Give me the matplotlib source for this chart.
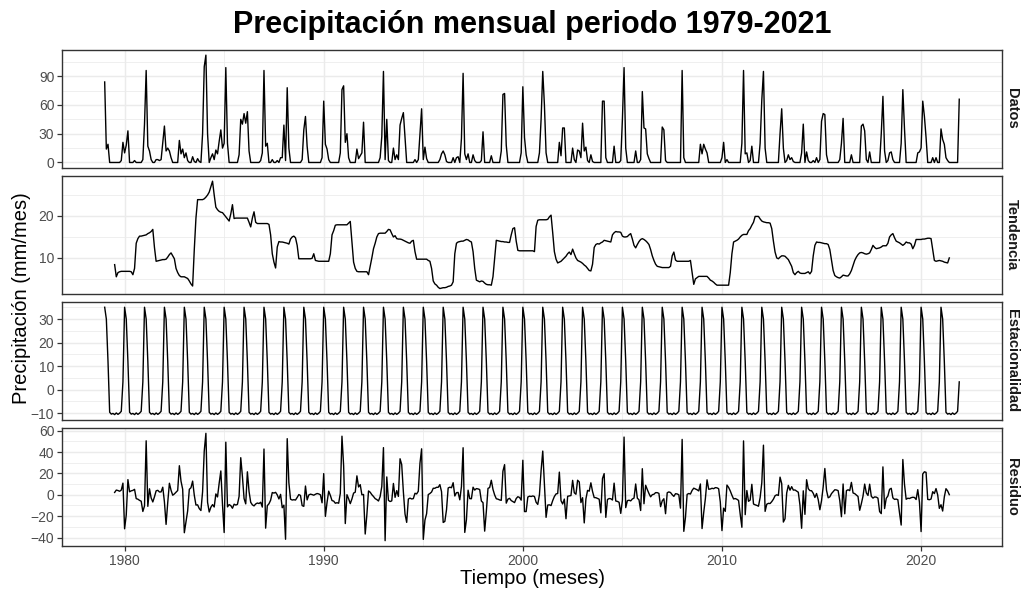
import numpy as np
import matplotlib
matplotlib.use('Agg')
import matplotlib.pyplot as plt

plt.rcParams['font.family'] = ['Liberation Sans', 'DejaVu Sans']

# Monthly precipitation (mm/mes), one row per year, Jan..Dec
datos_mensuales = [
    [84, 14, 19, 0, 0, 0, 0, 0, 0, 0, 2, 21],      # 1979
    [10, 18, 33, 0, 0, 0, 2, 0, 0, 0, 0, 3],       # 1980
    [40, 96, 17, 12, 3, 0, 0, 3, 3, 2, 3, 20],     # 1981
    [38, 12, 15, 12, 5, 0, 0, 0, 0, 23, 9, 14],    # 1982
    [5, 10, 2, 0, 0, 6, 1, 0, 4, 1, 0, 30],        # 1983
    [100, 112, 30, 0, 5, 9, 3, 13, 9, 22, 34, 15], # 1984
    [20, 99, 20, 0, 0, 0, 0, 0, 0, 8, 45, 40],     # 1985
    [51, 41, 53, 12, 0, 0, 0, 0, 0, 0, 2, 10],     # 1986
    [96, 17, 20, 0, 0, 3, 0, 0, 2, 0, 5, 5],       # 1987
    [39, 2, 78, 15, 0, 0, 0, 0, 0, 0, 0, 3],       # 1988
    [34, 48, 17, 0, 0, 0, 0, 0, 0, 0, 0, 5],       # 1989
    [64, 19, 14, 3, 0, 0, 0, 0, 0, 0, 10, 76],     # 1990
    [80, 21, 30, 5, 0, 0, 0, 0, 14, 4, 7, 10],     # 1991
    [42, 0, 0, 0, 0, 0, 0, 0, 0, 0, 5, 27],        # 1992
    [95, 3, 45, 2, 0, 0, 15, 3, 8, 3, 39, 46],     # 1993
    [52, 26, 0, 0, 0, 0, 0, 3, 0, 3, 30, 56],      # 1994
    [3, 16, 4, 0, 0, 0, 0, 0, 0, 0, 3, 9],         # 1995
    [12, 8, 1, 0, 0, 0, 5, 0, 5, 6, 0, 25],        # 1996
    [93, 9, 3, 9, 0, 0, 8, 2, 0, 0, 0, 2],         # 1997
    [32, 0, 0, 0, 0, 7, 0, 0, 0, 0, 0, 12],        # 1998
    [71, 72, 18, 0, 0, 0, 0, 0, 0, 0, 0, 10],      # 1999
    [79, 26, 8, 0, 0, 0, 0, 0, 0, 0, 10, 45],      # 2000
    [95, 60, 10, 0, 0, 0, 0, 0, 0, 0, 21, 7],      # 2001
    [36, 36, 0, 0, 0, 0, 15, 3, 0, 13, 12, 5],     # 2002
    [41, 12, 16, 2, 0, 8, 1, 0, 0, 0, 0, 0],       # 2003
    [64, 64, 5, 0, 0, 0, 0, 17, 0, 0, 0, 2],       # 2004
    [45, 99, 15, 0, 0, 0, 0, 0, 12, 0, 0, 3],      # 2005
    [74, 36, 35, 9, 4, 0, 0, 0, 0, 0, 0, 0],       # 2006
    [37, 34, 2, 0, 0, 0, 0, 0, 0, 0, 0, 0],        # 2007
    [96, 5, 0, 0, 0, 0, 0, 0, 0, 0, 0, 19],        # 2008
    [9, 19, 14, 10, 0, 0, 0, 0, 0, 0, 0, 0],       # 2009
    [5, 21, 0, 3, 0, 0, 0, 0, 0, 0, 0, 0],         # 2010
    [20, 96, 9, 10, 0, 2, 17, 0, 0, 0, 0, 20],     # 2011
    [65, 95, 15, 0, 0, 0, 0, 0, 0, 0, 0, 30],      # 2012
    [56, 15, 0, 2, 8, 3, 5, 1, 0, 0, 0, 0],        # 2013
    [10, 40, 0, 11, 2, 0, 0, 2, 0, 5, 0, 3],       # 2014
    [43, 51, 50, 8, 0, 0, 0, 0, 0, 0, 0, 3],       # 2015
    [20, 46, 0, 0, 0, 0, 8, 0, 0, 0, 0, 0],        # 2016
    [38, 40, 33, 3, 0, 11, 0, 0, 0, 0, 0, 0],      # 2017
    [30, 69, 12, 0, 2, 10, 11, 3, 0, 0, 0, 0],     # 2018
    [20, 76, 35, 0, 0, 0, 0, 0, 0, 0, 10, 11],     # 2019
    [15, 64, 48, 26, 0, 0, 0, 5, 0, 5, 0, 0],      # 2020
    [35, 24, 19, 5, 2, 0, 0, 0, 0, 0, 0, 66],      # 2021
]

# Trend (moving average), Jul 1979 .. Jun 2021
tendencia = [
    8.4, 5.5, 6.5, 6.7, 6.8, 6.8,
    6.8, 6.8, 6.8, 6.8, 6.7, 6.0, 7.5, 13.5, 14.6, 15.2, 15.2, 15.3,
    15.4, 15.5, 15.8, 16.0, 16.3, 16.8, 12.5, 9.2, 9.3, 9.4, 9.5, 9.6,
    9.6, 9.7, 10.2, 10.8, 11.2, 10.5, 9.8, 7.5, 6.5, 5.8, 5.5, 5.5,
    5.5, 5.3, 5.1, 4.5, 3.8, 3.3, 12.0, 19.5, 23.9, 23.9, 23.9, 23.9,
    24.1, 24.5, 25.0, 25.7, 27.0, 28.3, 25.0, 22.1, 21.5, 21.1, 20.9, 20.8,
    20.3, 19.8, 19.3, 18.8, 20.5, 22.7, 19.4, 19.5, 19.5, 19.5, 19.5, 19.5,
    19.5, 19.5, 19.5, 18.5, 17.4, 19.5, 21.0, 18.5, 18.2, 18.2, 18.2, 18.2,
    18.2, 18.2, 18.2, 18.0, 15.5, 11.0, 9.0, 7.6, 12.6, 13.9, 13.8, 13.8,
    13.7, 13.6, 13.5, 13.3, 14.5, 15.0, 15.2, 14.8, 13.0, 9.8, 9.8, 9.8,
    9.8, 9.8, 9.8, 9.8, 9.8, 9.9, 11.0, 9.4, 9.3, 9.2, 9.2, 9.2,
    9.2, 9.2, 9.2, 9.2, 11.0, 15.5, 16.5, 17.8, 17.9, 17.9, 17.9, 17.9,
    17.9, 17.9, 17.9, 18.3, 18.7, 14.0, 9.0, 7.5, 6.8, 6.7, 6.7, 6.7,
    6.7, 6.7, 6.7, 6.0, 8.0, 10.0, 12.2, 13.5, 15.0, 15.8, 15.9, 15.9,
    15.9, 15.9, 16.3, 16.8, 16.7, 15.8, 15.0, 15.3, 14.6, 14.5, 14.5, 14.4,
    14.2, 14.0, 13.8, 13.6, 13.5, 14.0, 14.2, 11.5, 9.7, 9.7, 9.7, 9.7,
    9.7, 9.7, 9.7, 9.4, 9.2, 7.5, 4.5, 3.8, 3.5, 3.0, 2.7, 2.8,
    2.9, 2.9, 3.0, 3.2, 3.3, 3.5, 4.3, 11.0, 13.5, 13.8, 13.9, 14.0,
    14.0, 14.2, 14.4, 14.3, 14.0, 13.8, 11.5, 7.5, 4.7, 4.5, 4.3, 4.5,
    4.4, 4.0, 3.7, 3.6, 3.6, 3.5, 5.5, 10.0, 14.2, 14.1, 14.0, 13.9,
    13.9, 13.8, 13.8, 13.7, 13.7, 15.5, 17.0, 17.2, 14.0, 11.8, 11.7, 11.7,
    11.7, 11.7, 11.7, 11.7, 11.7, 11.7, 11.7, 11.5, 17.5, 19.0, 19.1, 19.1,
    19.1, 19.1, 19.1, 19.2, 19.8, 20.2, 16.0, 11.5, 9.7, 8.8, 9.0, 9.2,
    9.6, 10.0, 10.4, 11.0, 11.4, 10.8, 12.1, 11.0, 10.0, 9.4, 9.2, 9.0,
    8.7, 8.3, 8.0, 7.5, 7.0, 6.9, 8.5, 12.5, 13.2, 13.4, 13.3, 13.6,
    13.8, 14.2, 14.1, 14.0, 13.9, 13.8, 15.5, 16.0, 16.3, 16.2, 16.2, 16.1,
    15.2, 15.0, 15.0, 15.1, 15.5, 15.8, 14.5, 13.0, 12.4, 13.2, 13.9, 14.4,
    14.6, 14.4, 14.1, 13.7, 13.2, 12.0, 10.5, 9.4, 8.5, 8.0, 7.9, 7.8,
    7.7, 7.7, 7.7, 7.7, 7.7, 8.0, 10.5, 11.4, 9.5, 9.2, 9.2, 9.2,
    9.2, 9.2, 9.2, 9.2, 9.2, 9.4, 6.5, 3.7, 5.0, 5.3, 5.6, 5.6,
    5.6, 5.6, 5.6, 5.6, 5.2, 4.7, 4.5, 4.2, 3.8, 3.5, 3.5, 3.5,
    3.5, 3.5, 3.5, 3.5, 3.5, 6.5, 11.0, 13.8, 14.0, 14.2, 14.5, 15.0,
    15.4, 15.6, 15.6, 15.6, 16.5, 17.0, 17.8, 18.5, 19.9, 19.9, 19.9, 19.3,
    18.8, 18.6, 18.5, 18.4, 18.4, 18.3, 17.0, 14.0, 11.4, 10.0, 9.8, 10.2,
    10.5, 10.5, 10.4, 10.0, 9.6, 8.8, 8.0, 6.5, 6.0, 6.5, 6.8, 6.4,
    6.3, 6.3, 6.3, 6.5, 6.7, 6.2, 6.8, 10.5, 13.0, 13.8, 13.7, 13.7,
    13.6, 13.5, 13.4, 13.4, 13.2, 12.0, 9.5, 7.0, 5.8, 5.5, 5.3, 5.2,
    5.5, 5.9, 5.8, 5.7, 5.7, 6.2, 7.0, 8.2, 9.4, 10.2, 10.8, 11.2,
    11.3, 11.2, 11.0, 10.9, 11.0, 11.2, 12.0, 13.0, 12.5, 12.2, 12.3, 12.4,
    12.6, 12.9, 12.9, 12.9, 13.5, 15.0, 15.5, 15.8, 14.8, 14.0, 13.8, 13.6,
    13.3, 13.0, 13.3, 13.8, 13.6, 13.6, 13.3, 12.2, 13.0, 14.4, 14.4, 14.4,
    14.4, 14.5, 14.5, 14.6, 14.7, 14.7, 14.6, 12.0, 9.4, 9.2, 9.3, 9.4,
    9.3, 9.2, 9.0, 8.9, 8.8, 10.0,
]

# Seasonal component, Jan..Dec
estacional = [35.0, 30.0, 12.0, -9.6, -10.4, -10.1, -10.6, -9.9, -10.5, -10.0, -9.2, 3.3]

inicio = 1979
datos = np.array(datos_mensuales, dtype=float).ravel()
n = len(datos)
tiempo = inicio + np.arange(n) / 12

# trend is undefined for the first and last six months
tend = np.full(n, np.nan)
tend[6:6 + len(tendencia)] = tendencia
estac = np.tile(estacional, len(datos_mensuales))
residuo = datos - tend - estac

paneles = [
    ('Datos', datos, [0, 30, 60, 90], [15, 45, 75, 105]),
    ('Tendencia', tend, [10, 20], [5, 15, 25]),
    ('Estacionalidad', estac, [-10, 0, 10, 20, 30], [-5, 5, 15, 25, 35]),
    ('Residuo', residuo, [-40, -20, 0, 20, 40, 60], [-30, -10, 10, 30, 50]),
]

fig = plt.figure(figsize=(10.24, 5.91), dpi=100)

left, width = 0.0605, 0.918
alto, hueco = 0.1998, 0.0135
pad_x = 0.05 * (tiempo[-1] - tiempo[0])

for i, (nombre, serie, mayores, menores) in enumerate(paneles):
    bottom = 0.0761 + (3 - i) * (alto + hueco)
    ax = fig.add_axes([left, bottom, width, alto])
    ax.plot(tiempo, serie, color='black', lw=1.0)
    ax.set_xlim(tiempo[0] - pad_x, tiempo[-1] + pad_x)
    ax.margins(y=0.05)

    ax.set_xticks([1980, 1990, 2000, 2010, 2020])
    ax.set_xticks([1985, 1995, 2005, 2015], minor=True)
    ax.set_yticks(mayores)
    ax.set_yticks(menores, minor=True)
    ax.grid(which='major', color='#EBEBEB', lw=1.07)
    ax.grid(which='minor', color='#EBEBEB', lw=0.55)
    ax.set_axisbelow(True)

    for s in ax.spines.values():
        s.set_color('#333333')
        s.set_linewidth(1.0)

    ax.tick_params(which='major', length=3.5, width=0.9, color='#333333',
                   labelcolor='#4D4D4D', labelsize=10, pad=2)
    ax.tick_params(which='minor', length=0)
    if i < 3:
        ax.tick_params(axis='x', which='both', bottom=False, labelbottom=False)

    fig.text(1012 / 1024, bottom + alto / 2, nombre, rotation=270,
             ha='center', va='center', fontsize=10.5, fontweight='bold',
             color='#1A1A1A')

fig.text(532 / 1024, 1 - 25 / 591, 'Precipitación mensual periodo 1979-2021',
         ha='center', va='center', fontsize=22, fontweight='bold')
fig.text(532 / 1024, 1 - 578 / 591, 'Tiempo (meses)',
         ha='center', va='center', fontsize=14.5)
fig.text(22 / 1024, 0.0761 + 2 * alto + 1.5 * hueco, 'Precipitación (mm/mes)',
         ha='center', va='center', rotation=90, fontsize=14.5)

fig.savefig('out.png', dpi=100)
